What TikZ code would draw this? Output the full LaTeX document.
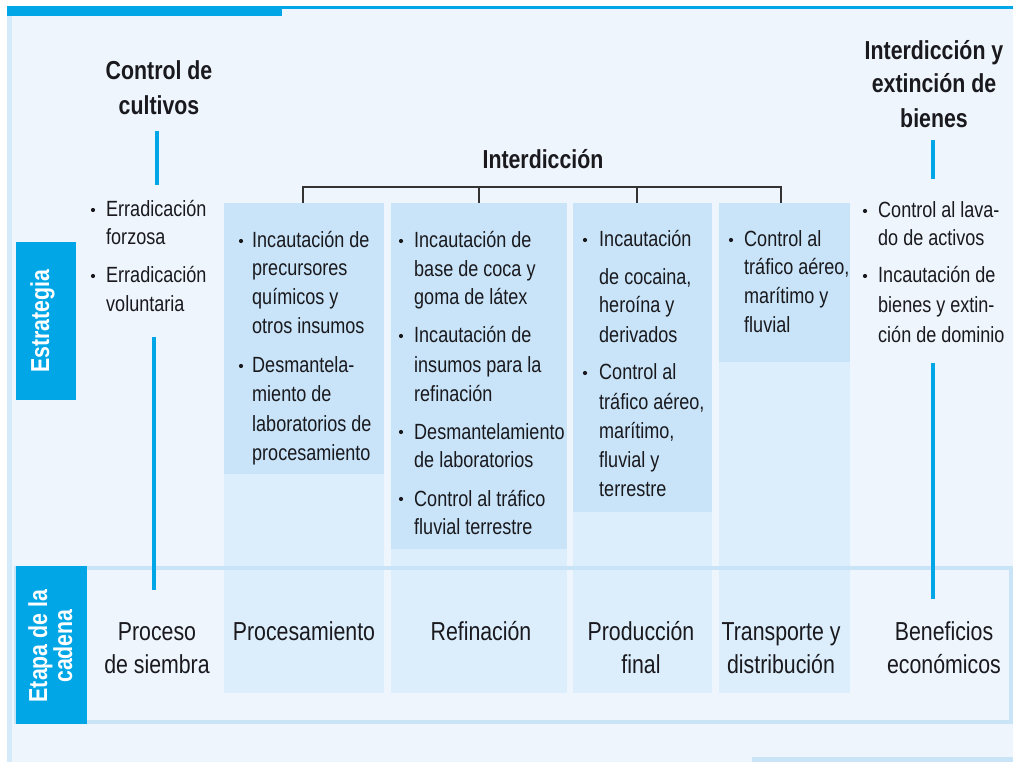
\documentclass[tikz,border=0pt]{standalone}
\usepackage{fontspec}
\setmainfont[FakeStretch=0.82]{Liberation Sans}
\definecolor{fondo}{RGB}{238,245,252}
\definecolor{azul}{RGB}{0,166,230}
\definecolor{marco}{RGB}{202,228,247}
\definecolor{claro}{RGB}{220,238,252}
\definecolor{medio}{RGB}{201,228,248}
\definecolor{franja}{RGB}{214,235,250}
\definecolor{tinta}{RGB}{25,25,30}

\begin{document}
\begin{tikzpicture}[x=1pt,y=-1pt,
	lin/.style={anchor=base west,inner sep=0,text=tinta,font=\fontsize{22}{29}\selectfont},
	pto/.style={circle,fill=tinta,inner sep=0,minimum size=4.2pt},
	tit/.style={anchor=base,inner sep=0,text=tinta,font=\bfseries\fontsize{26}{34}\selectfont},
	eta/.style={anchor=base,inner sep=0,text=tinta,font=\fontsize{26}{33}\selectfont},
	rot/.style={anchor=base,inner sep=0,rotate=90,text=white,font=\bfseries\fontsize{26}{33}\selectfont},
	enlace/.style={azul,line width=4pt},
	llave/.style={black!80,line width=1.3pt}]
	\useasboundingbox (0,0) rectangle (1013,762);
	\fill[white] (0,0) rectangle (1013,762);
	\fill[fondo] (7,6) rectangle (1013,762);
	\fill[azul] (7,6) rectangle (282,16);
	\fill[azul] (282,6) rectangle (1013,9);
	\fill[franja] (7,16) rectangle (12,762);
	\fill[marco] (752,757) rectangle (1013,762);
	% columnas de la cadena
	\foreach \n/\a/\b/\h in {1/224/384/474,2/391/567/549,3/573/712/512,4/719/850/362} {
		\fill[claro] (\a,203) rectangle (\b,693);
		\fill[medio] (\a,203) rectangle (\b,\h);
	}
	\draw[marco,line width=4pt] (16,568) rectangle (1011,722);
	\fill[azul] (16,242) rectangle (76,400);
	\fill[azul] (16,566) rectangle (87,724);
	\node[rot] (est) at (49,321) {Estrategia};
	\node[rot] (eta1) at (47,646) {Etapa de la};
	\node[rot] (eta2) at (72,646) {cadena};
	% titulos
	\node[tit] (ctrl1) at (159,80) {Control de};
	\node[tit] (ctrl2) at (159,115) {cultivos};
	\node[tit] (inter) at (543,169) {Interdicción};
	\node[tit] (ext1) at (934,60) {Interdicción y};
	\node[tit] (ext2) at (934,93) {extinción de};
	\node[tit] (ext3) at (934,128) {bienes};
	% listas
	\foreach \y/\txt in {217/Erradicación,245/forzosa,283/Erradicación,312/voluntaria}
		\node[lin] (c0-\y) at (106,\y) {\txt};
	\foreach \y in {217,283} \node[pto] (p0-\y) at (93,\y-7) {};
	\foreach \y/\txt in {248/Incautación de,276/precursores,305/químicos y,334/otros insumos,373/Desmantela-,401/miento de,431/laboratorios de,460/procesamiento}
		\node[lin] (c1-\y) at (252,\y) {\txt};
	\foreach \y in {248,373} \node[pto] (p1-\y) at (241,\y-7) {};
	\foreach \y/\txt in {248/Incautación de,277/base de coca y,305/goma de látex,343/Incautación de,372/insumos para la,401/refinación,439/Desmantelamiento,467/de laboratorios,506/Control al tráfico,534/fluvial terrestre}
		\node[lin] (c2-\y) at (414,\y) {\txt};
	\foreach \y in {248,343,439,506} \node[pto] (p2-\y) at (401,\y-7) {};
	\foreach \y/\txt in {247/Incautación,285/{de cocaina,},313/heroína y,342/derivados,380/Control al,409/{tráfico aéreo,},438/{marítimo,},467/fluvial y,496/terrestre}
		\node[lin] (c3-\y) at (599,\y) {\txt};
	\foreach \y in {247,380} \node[pto] (p3-\y) at (585,\y-7) {};
	\foreach \y/\txt in {247/Control al,275/{tráfico aéreo,},304/marítimo y,333/fluvial}
		\node[lin] (c4-\y) at (744,\y) {\txt};
	\node[pto] (p4-247) at (731,240) {};
	\foreach \y/\txt in {218/Control al lava-,246/do de activos,283/Incautación de,313/bienes y extin-,342/ción de dominio}
		\node[lin] (c5-\y) at (878,\y) {\txt};
	\foreach \y in {218,283} \node[pto] (p5-\y) at (865,\y-7) {};
	% etapas
	\foreach \x/\a/\b in {157/Proceso/de siembra,641/Producción/final,781/Transporte y/distribución,944/Beneficios/económicos} {
		\node[eta] (ea-\x) at (\x,640) {\a};
		\node[eta] (eb-\x) at (\x,673) {\b};
	}
	\node[eta] (ea-304) at (304,640) {Procesamiento};
	\node[eta] (ea-481) at (481,640) {Refinación};
	% conectores
	\coordinate (ca) at (157,131); \coordinate (cb) at (157,185);
	\coordinate (cc) at (154,337); \coordinate (cd) at (154,590);
	\coordinate (da) at (933,140); \coordinate (db) at (933,179);
	\coordinate (dc) at (933,363); \coordinate (dd) at (933,599);
	\draw[enlace] (ca) -- (cb);
	\draw[enlace] (cc) -- (cd);
	\draw[enlace] (da) -- (db);
	\draw[enlace] (dc) -- (dd);
	\foreach \n/\x in {1/303,2/479,3/637,4/781} \coordinate (k\n) at (\x,203);
	\coordinate (kb) at (543,187);
	\draw[llave] (k1) |- (kb) -| (k4);
	\draw[llave] (k2) -- (k2 |- kb) (k3) -- (k3 |- kb);
\end{tikzpicture}
\end{document}
